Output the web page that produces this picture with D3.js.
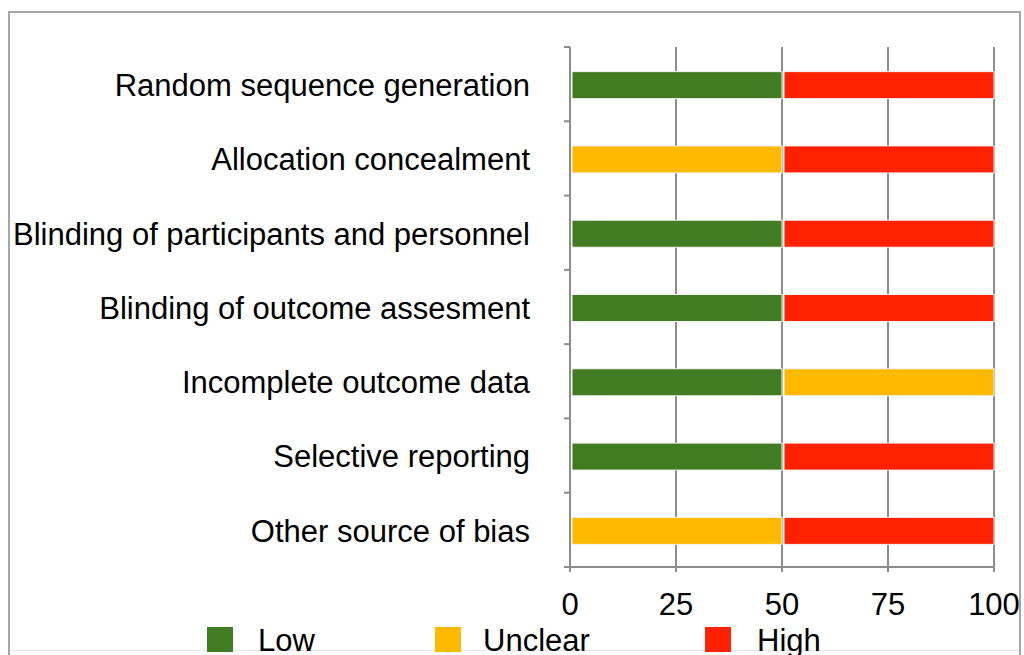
<!DOCTYPE html>
<html><head><meta charset="utf-8">
<script src="https://cdn.jsdelivr.net/npm/d3@7"></script>
<style>body{margin:0;background:#fff;}svg{display:block;}</style>
</head><body>
<svg id="c" width="1024" height="655"></svg>
<script>
const categories = ["Random sequence generation","Allocation concealment","Blinding of participants and personnel","Blinding of outcome assesment","Incomplete outcome data","Selective reporting","Other source of bias"];
const low     = [50, 0, 50, 50, 50, 50, 0];
const unclear = [0, 50, 0, 0, 50, 0, 50];
const high    = [50, 50, 50, 50, 0, 50, 50];
const seriesNames = ["Low","Unclear","High"];
const seriesColors = ["#427C22","#FFBA00","#FF2100"];
const xTicks = [0,25,50,75,100];

const svg = d3.select("#c");
const font = "Liberation Sans, Arial, sans-serif";
svg.append("rect").attr("x",9).attr("y",12).attr("width",1011).attr("height",660)
  .attr("fill","none").attr("stroke","#a6a6a6").attr("stroke-width",2);
svg.append("line").attr("x1",10).attr("x2",1019).attr("y1",650.5).attr("y2",650.5)
  .attr("stroke","#e6e6e6").attr("stroke-width",1);

const x = d3.scaleLinear().domain([0,100]).range([570,994]);
const y = d3.scaleBand().domain(categories).range([47,567]);

// grid lines
svg.append("g").selectAll("line").data(xTicks.slice(1)).join("line")
  .attr("x1",d=>x(d)).attr("x2",d=>x(d)).attr("y1",47).attr("y2",572)
  .attr("stroke","#8c8c8c").attr("stroke-width",2);

// bars
const rows = categories.map((c,i)=>({c, vals:[low[i],unclear[i],high[i]]}));
const bh = 27;
rows.forEach(r=>{
  let acc=0;
  r.vals.forEach((v,j)=>{
    if(v>0){
      svg.append("rect").attr("x",x(acc)+2).attr("width",x(acc+v)-x(acc)-2)
        .attr("y",y(r.c)+y.bandwidth()/2-bh/2+1).attr("height",bh)
        .attr("fill",seriesColors[j]).attr("stroke","#f4f4f4").attr("stroke-width",1);
    }
    acc+=v;
  });
});

// left axis
const yl = svg.append("g");
yl.append("line").attr("x1",570).attr("x2",570).attr("y1",47).attr("y2",572).attr("stroke","#8c8c8c").attr("stroke-width",2);
const bounds = categories.map(c=>y(c)).concat([567]);
yl.selectAll("line.t").data(bounds).join("line").attr("class","t")
  .attr("x1",564).attr("x2",570).attr("y1",d=>d).attr("y2",d=>d).attr("stroke","#8c8c8c").attr("stroke-width",2);
// bottom axis
svg.append("line").attr("x1",569).attr("x2",995).attr("y1",567).attr("y2",567).attr("stroke","#8c8c8c").attr("stroke-width",2);

// category labels
svg.append("g").selectAll("text").data(categories).join("text")
  .attr("x",530).attr("y",d=>y(d)+y.bandwidth()/2+1).attr("dy","0.35em")
  .attr("text-anchor","end").attr("font-family",font).attr("font-size",31).attr("fill","#000")
  .text(d=>d);

// x tick labels
svg.append("g").selectAll("text").data(xTicks).join("text")
  .attr("x",d=>x(d)).attr("y",615).attr("text-anchor","middle")
  .attr("font-family",font).attr("font-size",31).attr("fill","#000").text(d=>d);

// legend
const legX = [207,435,705];
const textX = [258,483,757];
const leg = svg.append("g");
seriesNames.forEach((n,i)=>{
  leg.append("rect").attr("x",legX[i]).attr("y",627).attr("width",26).attr("height",25).attr("fill",seriesColors[i]);
  leg.append("text").attr("x",textX[i]).attr("y",651).attr("font-family",font).attr("font-size",31).attr("fill","#000").text(n);
});
</script>
</body></html>
